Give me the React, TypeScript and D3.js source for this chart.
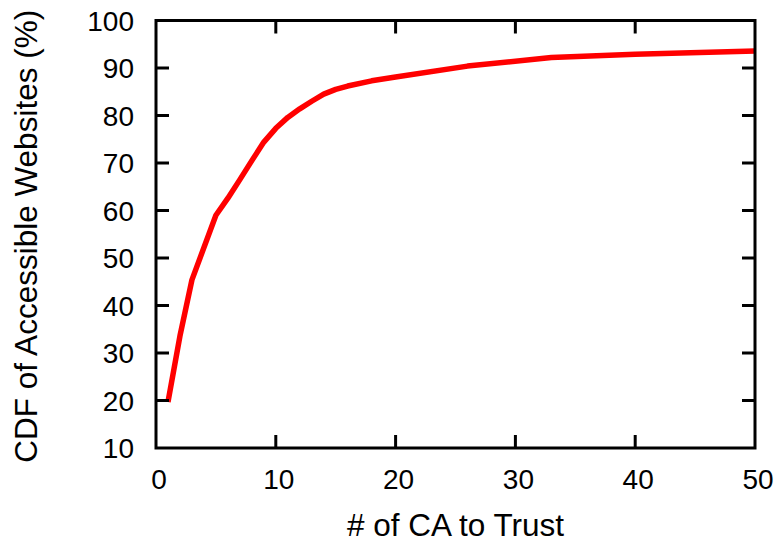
import React from "react";
import * as d3 from "d3";

const caCounts = [1, 2, 3, 5, 6, 7, 8, 9, 10, 11, 12, 13, 14, 15, 16, 18, 20, 26, 33, 40, 50];
const cdfValues = [19.7, 33.6, 45.4, 59, 62.6, 66.5, 70.5, 74.4, 77.3, 79.6, 81.4, 83.0, 84.5, 85.5, 86.2, 87.3, 88.1, 90.4, 92.2, 92.9, 93.6];
const xTicks = [0, 10, 20, 30, 40, 50];
const yTicks = [10, 20, 30, 40, 50, 60, 70, 80, 90, 100];

const width = 779;
const height = 542;
const margin = { left: 156, right: 24, top: 20.5, bottom: 94 };
const tickLen = 13;
const font = "'Liberation Sans', Arial, sans-serif";

const App = () => {
  const x = d3.scaleLinear().domain([0, 50]).range([margin.left, width - margin.right]);
  const y = d3.scaleLinear().domain([10, 100]).range([height - margin.bottom, margin.top]);

  const line = d3
    .line<number>()
    .x((d, i) => x(caCounts[i]))
    .y((d) => y(d))
    .curve(d3.curveLinear);

  const [x0, x1] = x.range();
  const [y0, y1] = y.range();

  return (
    <div style={{ position: "absolute", left: 0, top: 0 }}>
      <svg width={width} height={height} style={{ display: "block", background: "#fff" }}>
        <path d={line(cdfValues) || ""} fill="none" stroke="#ff0000" strokeWidth={5.5} strokeLinejoin="round" />

        {/* ticks, mirrored on all sides */}
        <g stroke="#000" strokeWidth={3}>
          {xTicks.slice(1, -1).map((t) => (
            <g key={"xt" + t}>
              <line x1={x(t)} x2={x(t)} y1={y0} y2={y0 - tickLen} />
              <line x1={x(t)} x2={x(t)} y1={y1} y2={y1 + tickLen} />
            </g>
          ))}
          {yTicks.slice(1, -1).map((t) => (
            <g key={"yt" + t}>
              <line x1={x0} x2={x0 + tickLen} y1={y(t)} y2={y(t)} />
              <line x1={x1} x2={x1 - tickLen} y1={y(t)} y2={y(t)} />
            </g>
          ))}
        </g>
        <rect x={x0} y={y1} width={x1 - x0} height={y0 - y1} fill="none" stroke="#000" strokeWidth={3} />

        {/* tick labels */}
        <g fontFamily={font} fontSize={28} fill="#000">
          {xTicks.map((t) => (
            <text key={"xl" + t} x={x(t) + 3} y={489} textAnchor="middle">
              {t}
            </text>
          ))}
          {yTicks.map((t) => (
            <text key={"yl" + t} x={134} y={y(t)} dy="0.36em" textAnchor="end">
              {t}
            </text>
          ))}
        </g>

        {/* axis titles */}
        <text x={(x0 + x1) / 2} y={536} textAnchor="middle" fontFamily={font} fontSize={31.5} fill="#000">
          # of CA to Trust
        </text>
        <text
          transform={`translate(37, ${(y0 + y1) / 2 + 2}) rotate(-90)`}
          textAnchor="middle"
          fontFamily={font}
          fontSize={31.5}
          fill="#000"
        >
          CDF of Accessible Websites (%)
        </text>
      </svg>
    </div>
  );
};

export default App;
